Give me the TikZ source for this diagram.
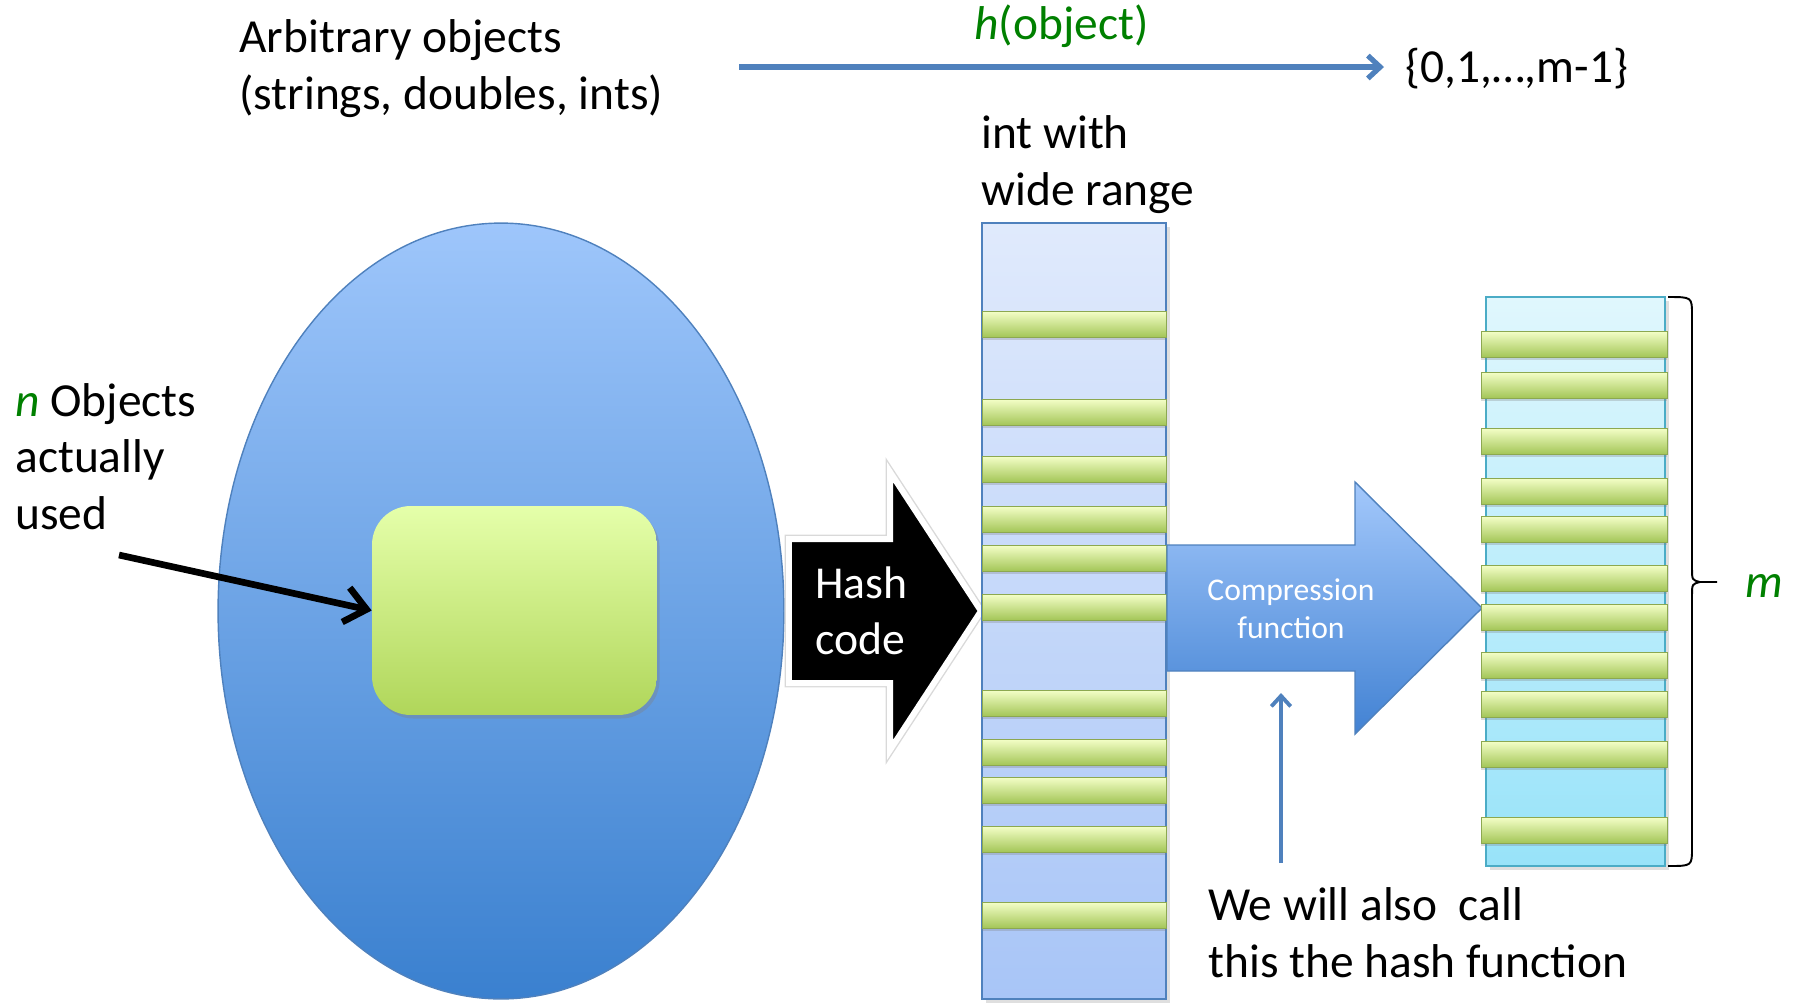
\documentclass[tikz,border=0pt]{standalone}
\usepackage{fontspec}
\setmainfont{Carlito}
\usetikzlibrary{arrows.meta,shadows}

\definecolor{objgreen}{RGB}{0,128,0}
\definecolor{linkblue}{RGB}{79,129,189}
\definecolor{aquaedge}{RGB}{75,172,198}
\definecolor{slottop}{RGB}{244,255,200}
\definecolor{slotbottom}{RGB}{164,198,88}
\definecolor{slotedge}{RGB}{140,168,80}

\tikzset{
    every node/.style={inner sep=0pt},
    bigtext/.style={font=\fontsize{27}{32}\selectfont, align=left, anchor=base west},
    slot/.style={top color=slottop, bottom color=slotbottom, draw=slotedge, line width=0.5pt,
        drop shadow={opacity=0.3, shadow xshift=0pt, shadow yshift=-1.5pt}},
    pointer/.style={line width=3.8pt, -{Straight Barb[length=12pt,width=20pt]}},
    maparrow/.style={draw=linkblue, line width=3pt, -{Straight Barb[length=7pt,width=13pt]}},
    uparrow/.style={draw=linkblue, line width=2.2pt, -{Straight Barb[length=6pt,width=11pt]}},
}

\begin{document}
\begin{tikzpicture}[x=0.02cm,y=-0.02cm]
    \useasboundingbox (0,0) rectangle (1801,1002);
    % Draw set of all objects
    \draw[draw=linkblue, line width=0.8pt, top color={rgb,255:red,158;green,198;blue,251},
        bottom color={rgb,255:red,58;green,128;blue,207}]
        (501,611) ellipse [x radius=5.66cm, y radius=7.76cm];
    % Draw objects actually used
    \node[top color={rgb,255:red,229;green,255;blue,170}, bottom color={rgb,255:red,176;green,214;blue,90},
        rounded corners=22pt, minimum width=5.7cm, minimum height=4.18cm,
        drop shadow={opacity=0.35, shadow xshift=1.5pt, shadow yshift=-2pt}] (usedbox) at (514.5,610.5) {};
    \node[bigtext] (nlabel) at (15,529) {\textcolor{objgreen}{\textit{n}} Objects\\actually\\used};
    \coordinate (ntail) at (119,555);
    \draw[pointer] (ntail) -- (usedbox.west);
    % Draw hash code arrow
    \draw[gray!30, line width=5pt, line join=miter] (789,539) -- (890,539) -- (890,472) -- (981,611)
        -- (890,750) -- (890,683) -- (789,683) -- cycle;
    \draw[white, line width=3.4pt, fill=black, line join=miter] (789,539) -- (890,539) -- (890,472) -- (981,611)
        -- (890,750) -- (890,683) -- (789,683) -- cycle;
    \node[bigtext, text=white, font=\fontsize{26}{31.7}\selectfont] (hashtext) at (815,654) {Hash\\code};
    % Draw wide range of ints
    \draw[draw=linkblue, line width=1.2pt, top color={rgb,255:red,224;green,234;blue,252},
        bottom color={rgb,255:red,168;green,197;blue,247},
        drop shadow={opacity=0.25, shadow xshift=2pt, shadow yshift=-2pt}] (982,223) rectangle (1166,999);
    \foreach \y in {324,412,469,519,558,607,703,752,790,839,915}
        \draw[slot] (982,\y-13) rectangle (1166,\y+13);
    \node[bigtext] (intlabel) at (981,205) {int with\\wide range};
    % Draw compression arrow
    \draw[draw=linkblue, line width=0.8pt, top color={rgb,255:red,163;green,200;blue,251},
        bottom color={rgb,255:red,66;green,130;blue,211}]
        (1167,545) -- (1355,545) -- (1355,482) -- (1482,608) -- (1355,734) -- (1355,671) -- (1167,671) -- cycle;
    \node[font=\fontsize{18}{21.5}\selectfont, align=center, text=white, anchor=base] (comptext) at (1291,638) {Compression\\function};
    % Draw table of size m
    \draw[draw=aquaedge, line width=1.2pt, top color={rgb,255:red,224;green,247;blue,253},
        bottom color={rgb,255:red,152;green,227;blue,249},
        drop shadow={opacity=0.25, shadow xshift=2pt, shadow yshift=-2pt}] (1486,297) rectangle (1665,866);
    \foreach \y in {344,385,441,491,529,578,617,665,704,754,830}
        \draw[slot] (1481,\y-13) rectangle (1667,\y+13);
    % Draw brace
    \draw[line width=1.1pt] (1668,297) .. controls (1692,297) .. (1692,315) -- (1692,568)
        .. controls (1692,580) .. (1700,582) -- (1717,582);
    \draw[line width=1.1pt] (1700,582) .. controls (1692,584) .. (1692,596) -- (1692,848)
        .. controls (1692,866) .. (1668,866);
    \node[font=\fontsize{27}{32}\selectfont, text=objgreen, anchor=base west] (msize) at (1745,597) {\textit{m}};
    % Draw mapping arrow
    \node[bigtext] at (239,109) (objlabel) {Arbitrary objects\\(strings, doubles, ints)};
    \coordinate (hstart) at (739,67);
    \node[bigtext, inner xsep=12pt] (range) at (1384,82) {\{0,1,…,m-1\}};
    \draw[maparrow] (hstart) -- (hstart -| range.west)
        node[midway, above=9.5pt, font=\fontsize{27}{32}\selectfont, text=objgreen] (hlabel) {\textit{h}(object)};
    % Draw note on hash function
    \coordinate (upfoot) at (1281,863);
    \coordinate (uptip) at (1281,693);
    \draw[uparrow] (upfoot) -- (uptip);
    \node[bigtext] (callnote) at (1208,977) {We will also~ call\\this the hash function};
\end{tikzpicture}
\end{document}
